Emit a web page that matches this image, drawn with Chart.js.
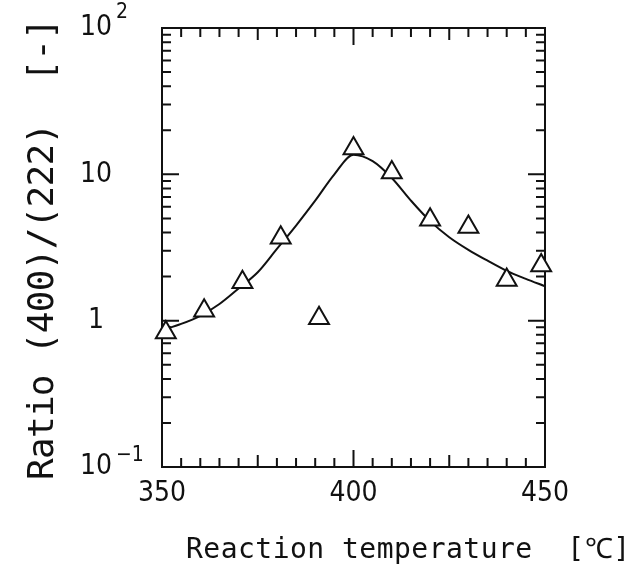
<!DOCTYPE html>
<html lang="en">
<head>
    <meta charset="UTF-8">
    <title>Ratio (400)/(222) vs reaction temperature</title>
    <style>
        html, body {
            margin: 0;
            padding: 0;
            background-color: #ffffff;
        }
        .chart-box {
            position: relative;
            width: 632px;
            height: 567px;
        }
    </style>
</head>
<body>
    <div class="chart-box">
        <canvas id="ratioChart"></canvas>
    </div>

    <script src="https://cdn.jsdelivr.net/npm/chart.js"></script>
    <script>
        // measured points (triangles)
        const tempPoints = [351, 361, 371, 381, 391, 400, 410, 420, 430, 440, 449];
        const ratioPoints = [0.83, 1.17, 1.83, 3.68, 1.04, 15.0, 10.3, 4.9, 4.36, 1.90, 2.38];

        // fitted curve
        const curveTemps = [350, 355, 360, 365, 370, 375, 380, 385, 390, 395, 400, 405, 410, 415, 420, 425, 430, 435, 440, 445, 450];
        const curveRatios = [0.86, 0.95, 1.08, 1.30, 1.66, 2.14, 3.09, 4.47, 6.61, 10.0, 13.6, 12.3, 9.44, 6.61, 4.79, 3.72, 3.05, 2.57, 2.19, 1.93, 1.72];

        // axes
        const xTicks = [350, 400, 450];
        const yTickValues = [0.1, 1, 10, 100];
        const yTickLabels = ['10^\u22121', '1', '10', '10^2'];
        const xTitle = 'Reaction temperature  [\u2103]';
        const yTitle = 'Ratio (400)/(222)  [-]';

        const tickFont = "'Liberation Sans Narrow', 'DejaVu Sans Condensed', sans-serif";
        const titleFont = "'DejaVu Sans Mono', 'Liberation Mono', monospace";

        // text drawn with extra spacing so it fills a given length
        function spacedText(ctx, text, x, y, length, angle) {
            ctx.save();
            ctx.letterSpacing = '0px';
            const w = ctx.measureText(text).width;
            const ls = (length - w) / (text.length - 1);
            ctx.letterSpacing = ls + 'px';
            ctx.translate(x, y);
            ctx.rotate(angle);
            ctx.textAlign = 'left';
            ctx.textBaseline = 'alphabetic';
            ctx.fillText(text, 0, 0);
            ctx.restore();
        }

        const framePlugin = {
            id: 'frame',
            beforeDatasetsDraw(chart) {
                const { ctx, chartArea: a, scales: { x, y } } = chart;
                ctx.save();
                ctx.strokeStyle = '#111';
                ctx.lineWidth = 2;
                ctx.strokeRect(a.left, a.top, a.right - a.left, a.bottom - a.top);
                ctx.beginPath();
                // temperature ticks every 5 deg, inward on top and bottom
                for (let v = x.min; v <= x.max; v += 5) {
                    const px = x.getPixelForValue(v);
                    const len = v % 50 === 0 ? 17 : (v % 25 === 0 ? 12 : 9);
                    ctx.moveTo(px, a.bottom);
                    ctx.lineTo(px, a.bottom - len);
                    ctx.moveTo(px, a.top);
                    ctx.lineTo(px, a.top + len);
                }
                // log ticks, inward on left and right
                [0.1, 1, 10].forEach(d => {
                    for (let k = 1; k < 10; k++) {
                        const py = y.getPixelForValue(k * d);
                        const len = k === 1 ? 17 : 9;
                        ctx.moveTo(a.left, py);
                        ctx.lineTo(a.left + len, py);
                        ctx.moveTo(a.right, py);
                        ctx.lineTo(a.right - len, py);
                    }
                });
                ctx.stroke();
                ctx.restore();
            },
            afterDraw(chart) {
                const { ctx, scales: { y } } = chart;
                ctx.save();
                ctx.fillStyle = '#111';

                // y tick labels, with raised exponent
                ctx.textBaseline = 'middle';
                yTickValues.forEach((v, i) => {
                    const py = y.getPixelForValue(v);
                    const [base, exp] = yTickLabels[i].split('^');
                    ctx.font = '28px ' + tickFont;
                    ctx.textAlign = 'center';
                    ctx.fillText(base, 96, py);
                    if (exp) {
                        const bw = ctx.measureText(base).width;
                        ctx.font = '21px ' + tickFont;
                        ctx.textAlign = 'left';
                        const lift = exp.length > 1 ? 11 : 15;
                        ctx.fillText(exp, 96 + bw / 2 + 4, py - lift);
                    }
                });

                ctx.font = '28px ' + titleFont;
                spacedText(ctx, xTitle, 186, 558, 444, 0);
                ctx.font = '36px ' + titleFont;
                spacedText(ctx, yTitle, 53, 480, 462, -Math.PI / 2);
                ctx.restore();
            }
        };

        const ctx = document.getElementById('ratioChart').getContext('2d');
        const ratioChart = new Chart(ctx, {
            type: 'scatter',
            data: {
                datasets: [{
                    label: 'measured',
                    data: tempPoints.map((t, i) => ({ x: t, y: ratioPoints[i] })),
                    pointStyle: 'triangle',
                    pointRadius: 11.5,
                    pointBackgroundColor: '#ffffff',
                    pointBorderColor: '#111',
                    pointBorderWidth: 2,
                    showLine: false,
                    clip: false
                }, {
                    label: 'fit',
                    data: curveTemps.map((t, i) => ({ x: t, y: curveRatios[i] })),
                    showLine: true,
                    borderColor: '#111',
                    borderWidth: 2,
                    pointRadius: 0,
                    cubicInterpolationMode: 'monotone'
                }]
            },
            options: {
                responsive: true,
                maintainAspectRatio: false,
                animation: false,
                layout: {
                    padding: { top: 28, right: 87, left: 0, bottom: 0 }
                },
                plugins: {
                    legend: { display: false },
                    tooltip: { enabled: false }
                },
                scales: {
                    x: {
                        type: 'linear',
                        min: 350,
                        max: 450,
                        grid: { display: false, drawTicks: false },
                        border: { display: false },
                        afterFit: (s) => { s.height = 100; },
                        afterBuildTicks: (s) => { s.ticks = xTicks.map(v => ({ value: v })); },
                        ticks: {
                            padding: 10,
                            color: '#111',
                            maxRotation: 0,
                            font: { family: tickFont, size: 28 },
                            callback: (v) => String(v)
                        }
                    },
                    y: {
                        type: 'logarithmic',
                        min: 0.1,
                        max: 100,
                        grid: { display: false, drawTicks: false },
                        border: { display: false },
                        afterFit: (s) => { s.width = 162; },
                        afterBuildTicks: (s) => { s.ticks = yTickValues.map(v => ({ value: v })); },
                        ticks: { display: false }
                    }
                }
            },
            plugins: [framePlugin]
        });
    </script>
</body>
</html>
